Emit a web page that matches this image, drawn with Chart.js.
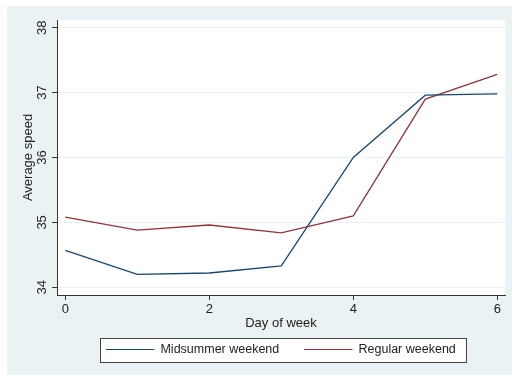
<!DOCTYPE html>
<html>
<head>
<meta charset="utf-8">
<script src="https://cdn.jsdelivr.net/npm/chart.js@4"></script>
<style>
  html, body { margin: 0; padding: 0; background: #fff; }
  #wrap { width: 512px; height: 375px; }
</style>
</head>
<body>
<div id="wrap"><canvas id="lineChart" width="512" height="375"></canvas></div>
<script>
// data
const days = [0, 1, 2, 3, 4, 5, 6];
const midsummer = [34.57, 34.20, 34.22, 34.33, 36.00, 36.96, 36.98];
const regular = [35.08, 34.88, 34.96, 34.84, 35.10, 36.90, 37.28];
const xTicks = [0, 2, 4, 6];
const yTicks = [34, 35, 36, 37, 38];

const bgColor = '#eaf2f3';
const axisColor = '#333333';
const fontFamily = 'Arial, "Liberation Sans", sans-serif';

// backgrounds + framed legend box
const backdrop = {
    id: 'backdrop',
    beforeDraw(chart) {
        const c = chart.ctx, a = chart.chartArea;
        c.save();
        c.fillStyle = '#ffffff';
        c.fillRect(0, 0, chart.width, chart.height);
        c.fillStyle = bgColor;
        c.fillRect(7, 6, chart.width - 7, chart.height - 6);
        c.fillStyle = '#ffffff';
        c.fillRect(a.left, a.top, a.right - a.left, a.bottom - a.top);

        const boxes = chart.legend.legendHitBoxes;
        if (boxes && boxes.length) {
            const l = Math.min(...boxes.map(b => b.left)) - 6;
            const r = Math.max(...boxes.map(b => b.left + b.width)) + 10;
            const t = boxes[0].top - 5;
            const h = boxes[0].height + 11;
            c.fillStyle = '#ffffff';
            c.fillRect(l, t, r - l, h);
            c.strokeStyle = '#444444';
            c.lineWidth = 1;
            c.strokeRect(Math.round(l) + 0.5, Math.round(t) + 0.5, Math.round(r - l), Math.round(h));
        }
        c.restore();
    }
};

// y tick labels are rotated in the original, so draw them here
const yLabels = {
    id: 'yLabels',
    afterDraw(chart) {
        const s = chart.scales.y, c = chart.ctx;
        c.save();
        c.font = '13px ' + fontFamily;
        c.fillStyle = '#222222';
        c.textAlign = 'center';
        c.textBaseline = 'middle';
        yTicks.forEach(v => {
            const py = s.getPixelForValue(v);
            c.save();
            c.translate(42, py);
            c.rotate(-Math.PI / 2);
            c.fillText(String(v), 0, 0);
            c.restore();
        });
        c.restore();
    }
};

new Chart(document.getElementById('lineChart').getContext('2d'), {
    type: 'line',
    data: {
        labels: days,
        datasets: [
            {
                label: 'Midsummer weekend',
                data: days.map((d, i) => ({ x: d, y: midsummer[i] })),
                borderColor: '#1a476f',
                backgroundColor: '#1a476f',
                borderWidth: 1.3,
                pointRadius: 0,
                tension: 0
            },
            {
                label: 'Regular weekend',
                data: days.map((d, i) => ({ x: d, y: regular[i] })),
                borderColor: '#90353b',
                backgroundColor: '#90353b',
                borderWidth: 1.3,
                pointRadius: 0,
                tension: 0
            }
        ]
    },
    options: {
        responsive: false,
        animation: false,
        devicePixelRatio: 1,
        layout: { padding: { left: 0, right: 7, top: 20, bottom: 9.25 } },
        scales: {
            x: {
                type: 'linear',
                min: -0.115,
                max: 6.107,
                afterBuildTicks: s => { s.ticks = xTicks.map(v => ({ value: v })); },
                afterFit: s => { s.height = 23.25; },
                border: { color: axisColor, width: 1 },
                grid: { drawOnChartArea: false, tickColor: axisColor, tickLength: 5 },
                ticks: {
                    color: '#222222',
                    padding: 2,
                    maxRotation: 0,
                    font: { family: fontFamily, size: 13 }
                },
                title: {
                    display: true,
                    text: 'Day of week',
                    color: '#222222',
                    font: { family: fontFamily, size: 13 },
                    padding: { top: 0, bottom: -12.5 }
                }
            },
            y: {
                min: 33.881,
                max: 38.119,
                afterBuildTicks: s => { s.ticks = yTicks.map(v => ({ value: v })); },
                afterFit: s => { s.width = 57; },
                border: { color: axisColor, width: 1 },
                grid: { color: bgColor, lineWidth: 1, tickColor: axisColor, tickLength: 5 },
                ticks: { display: false },
                title: {
                    display: true,
                    text: 'Average speed',
                    color: '#222222',
                    font: { family: fontFamily, size: 13 },
                    padding: { top: 21, bottom: 0 }
                }
            }
        },
        plugins: {
            legend: {
                position: 'bottom',
                fullSize: false,
                labels: {
                    boxWidth: 48,
                    boxHeight: 0,
                    padding: 25,
                    color: '#222222',
                    font: { family: fontFamily, size: 12.5 },
                    generateLabels: chart => chart.data.datasets.map((ds, i) => ({
                        text: ds.label,
                        fillStyle: ds.borderColor,
                        strokeStyle: ds.borderColor,
                        lineWidth: 1,
                        fontColor: '#222222',
                        hidden: false,
                        datasetIndex: i
                    }))
                }
            },
            tooltip: { enabled: false }
        }
    },
    plugins: [backdrop, yLabels]
});
</script>
</body>
</html>
